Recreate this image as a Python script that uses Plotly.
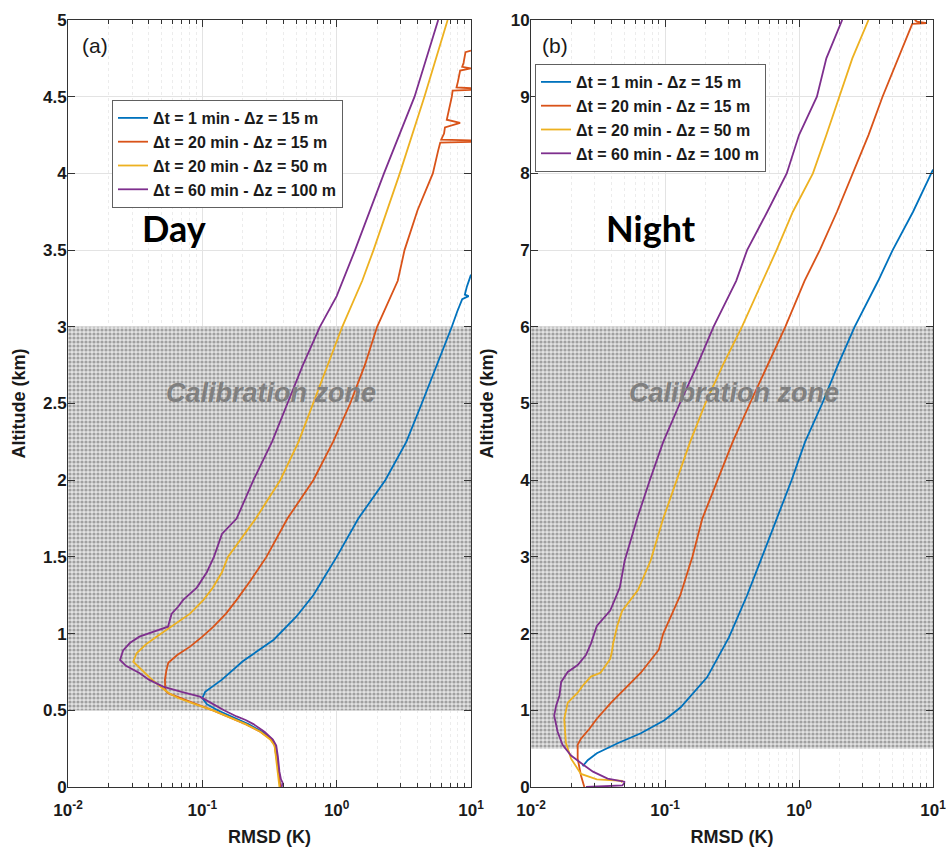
import plotly.graph_objects as go

# ---------------- data ----------------
SERIES_NAMES = ["Δt = 1 min - Δz = 15 m", "Δt = 20 min - Δz = 15 m",
                "Δt = 20 min - Δz = 50 m", "Δt = 60 min - Δz = 100 m"]
COLORS = ["#0072BD", "#D95319", "#EDB120", "#7E2F8E"]

X_RANGE = [0.01, 10]
X_TICKVALS = [0.01, 0.1, 1, 10]
X_TICKTEXT = ["10<sup>-2</sup>", "10<sup>-1</sup>", "10<sup>0</sup>", "10<sup>1</sup>"]
DAY_Y_TICKS = [0, 0.5, 1, 1.5, 2, 2.5, 3, 3.5, 4, 4.5, 5]
NIGHT_Y_TICKS = [0, 1, 2, 3, 4, 5, 6, 7, 8, 9, 10]
CAL_ZONE_DAY = [0.5, 3.0]
CAL_ZONE_NIGHT = [0.5, 6.0]

# Day panel (a)
DAY_BLUE_ALT = [0.0, 0.05, 0.1, 0.2, 0.27, 0.31, 0.36, 0.41, 0.46, 0.5, 0.54, 0.58, 0.62, 0.7, 0.82,
                0.96, 1.11, 1.25, 1.5, 1.75, 2.0, 2.25, 2.5, 2.75, 3.0, 3.1, 3.18, 3.2, 3.21, 3.26, 3.34]
DAY_BLUE_RMSD = [0.38, 0.375, 0.37, 0.36, 0.35, 0.33, 0.28, 0.22, 0.165, 0.13, 0.108, 0.1, 0.105, 0.14, 0.2,
                 0.34, 0.5, 0.67, 1.0, 1.45, 2.3, 3.3, 4.3, 5.6, 7.2, 7.9, 8.6, 9.6, 9.0, 9.3, 10.0]

DAY_RED_ALT = [0.0, 0.05, 0.1, 0.2, 0.27, 0.31, 0.36, 0.41, 0.46, 0.5, 0.54, 0.58, 0.61, 0.63, 0.7, 0.76,
               0.81, 0.86, 0.915, 0.98, 1.045, 1.13, 1.22, 1.35, 1.5, 1.75, 2.0, 2.25, 2.5, 2.75, 3.0, 3.3,
               3.5, 3.76, 4.0, 4.15, 4.2, 4.205, 4.215, 4.22, 4.26, 4.3, 4.33, 4.35, 4.42, 4.5, 4.54,
               4.545, 4.555, 4.56, 4.6, 4.67, 4.685, 4.695, 4.72, 4.79, 4.8]
DAY_RED_RMSD = [0.38, 0.375, 0.37, 0.355, 0.345, 0.325, 0.27, 0.21, 0.155, 0.12, 0.09, 0.068, 0.056, 0.053,
                0.0527, 0.054, 0.0558, 0.065, 0.081, 0.1, 0.121, 0.15, 0.18, 0.23, 0.3, 0.43, 0.67, 0.94,
                1.26, 1.62, 2.0, 2.85, 3.2, 4.0, 5.2, 5.7, 5.9, 10.0, 10.0, 6.0, 6.3, 6.4, 8.3, 6.6, 6.9,
                7.2, 7.3, 10.0, 10.0, 7.8, 8.0, 8.3, 10.0, 8.6, 8.8, 9.1, 10.0]

DAY_YEL_ALT = [0.0, 0.05, 0.1, 0.2, 0.27, 0.31, 0.36, 0.41, 0.46, 0.5, 0.54, 0.58, 0.61, 0.64, 0.71, 0.78,
               0.817, 0.872, 0.93, 0.98, 1.07, 1.13, 1.22, 1.3, 1.4, 1.5, 1.75, 2.0, 2.25, 2.5, 2.75, 3.0,
               3.3, 3.5, 4.0, 4.5, 5.0]
DAY_YEL_RMSD = [0.375, 0.37, 0.365, 0.355, 0.345, 0.32, 0.27, 0.21, 0.155, 0.12, 0.088, 0.066, 0.057, 0.051,
                0.041, 0.034, 0.0306, 0.0324, 0.038, 0.0456, 0.0643, 0.081, 0.102, 0.12, 0.14, 0.155, 0.25,
                0.38, 0.52, 0.67, 0.86, 1.1, 1.55, 1.88, 2.95, 4.5, 6.7]

DAY_PUR_ALT = [0.0, 0.03, 0.05, 0.1, 0.2, 0.27, 0.31, 0.36, 0.41, 0.437, 0.46, 0.5, 0.55, 0.589, 0.62, 0.654,
               0.7, 0.743, 0.79, 0.828, 0.89, 0.94, 0.98, 1.01, 1.045, 1.13, 1.175, 1.22, 1.3, 1.4, 1.5,
               1.65, 1.75, 2.0, 2.25, 2.5, 2.75, 3.0, 3.2, 3.5, 4.0, 4.5, 5.0]
DAY_PUR_RMSD = [0.39, 0.395, 0.385, 0.375, 0.365, 0.355, 0.335, 0.29, 0.24, 0.21, 0.18, 0.145, 0.115, 0.096,
                0.07, 0.051, 0.04, 0.034, 0.027, 0.0244, 0.0257, 0.029, 0.034, 0.043, 0.0555, 0.0591, 0.066,
                0.072, 0.091, 0.108, 0.122, 0.14, 0.18, 0.24, 0.33, 0.43, 0.56, 0.75, 1.0, 1.37, 2.25, 3.8,
                5.7]

# Night panel (b)
NIGHT_BLUE_ALT = [0.27, 0.35, 0.44, 0.57, 0.7, 0.87, 1.04, 1.19, 1.43, 1.95, 2.5, 3.0, 3.5, 4.0, 4.5, 5.0,
                  5.5, 6.0, 6.6, 7.0, 7.5, 8.0, 8.05]
NIGHT_BLUE_RMSD = [0.0243, 0.0265, 0.031, 0.0443, 0.066, 0.099, 0.131, 0.156, 0.206, 0.30, 0.41, 0.53, 0.68,
                   0.88, 1.11, 1.49, 1.95, 2.6, 3.9, 5.0, 7.1, 9.8, 10.0]

NIGHT_RED_ALT = [0.0, 0.15, 0.37, 0.55, 0.63, 0.76, 0.89, 1.1, 1.32, 1.49, 1.79, 2.0, 2.5, 3.0, 3.5, 4.0,
                 4.5, 5.0, 5.5, 6.0, 6.6, 7.0, 7.5, 8.0, 8.5, 9.0, 9.5, 9.95, 9.96, 9.98, 10.0]
NIGHT_RED_RMSD = [0.025, 0.0236, 0.0223, 0.0223, 0.0236, 0.0273, 0.031, 0.0396, 0.0527, 0.066, 0.09, 0.097,
                  0.13, 0.16, 0.19, 0.245, 0.32, 0.43, 0.58, 0.79, 1.1, 1.43, 1.92, 2.5, 3.3, 4.2, 5.5, 7.0,
                  9.0, 7.6, 7.3]

NIGHT_YEL_ALT = [0.06, 0.08, 0.1, 0.17, 0.37, 0.58, 0.89, 1.1, 1.23, 1.32, 1.44, 1.49, 1.58, 1.67, 1.75,
                 1.87, 2.1, 2.3, 2.57, 2.95, 3.5, 4.0, 4.5, 5.0, 5.5, 6.0, 6.6, 7.0, 7.5, 8.0, 8.5, 9.0,
                 9.5, 10.0]
NIGHT_YEL_RMSD = [0.047, 0.0483, 0.031, 0.0236, 0.0199, 0.0182, 0.0177, 0.0188, 0.0223, 0.0243, 0.028,
                  0.033, 0.036, 0.039, 0.040, 0.041, 0.044, 0.048, 0.063, 0.078, 0.097, 0.123, 0.154, 0.2,
                  0.27, 0.375, 0.54, 0.68, 0.9, 1.27, 1.6, 2.0, 2.5, 3.3]

NIGHT_PUR_ALT = [0.0, 0.01, 0.02, 0.05, 0.07, 0.11, 0.2, 0.28, 0.41, 0.55, 0.72, 0.93, 1.06, 1.19, 1.37,
                 1.5, 1.59, 1.72, 1.87, 2.1, 2.3, 2.6, 2.95, 3.5, 4.0, 4.5, 5.0, 5.5, 6.0, 6.6, 7.0, 7.5,
                 8.0, 8.5, 9.0, 9.5, 10.0]
NIGHT_PUR_RMSD = [0.0257, 0.035, 0.048, 0.0497, 0.0497, 0.0373, 0.029, 0.025, 0.0199, 0.0172, 0.0158,
                  0.0149, 0.0154, 0.0163, 0.0168, 0.0188, 0.0223, 0.0257, 0.028, 0.031, 0.039, 0.046, 0.05,
                  0.062, 0.077, 0.097, 0.129, 0.174, 0.23, 0.34, 0.41, 0.58, 0.81, 1.0, 1.36, 1.6, 2.1]

DAY_SERIES = [(DAY_BLUE_RMSD, DAY_BLUE_ALT), (DAY_RED_RMSD, DAY_RED_ALT),
              (DAY_YEL_RMSD, DAY_YEL_ALT), (DAY_PUR_RMSD, DAY_PUR_ALT)]
NIGHT_SERIES = [(NIGHT_BLUE_RMSD, NIGHT_BLUE_ALT), (NIGHT_RED_RMSD, NIGHT_RED_ALT),
                (NIGHT_YEL_RMSD, NIGHT_YEL_ALT), (NIGHT_PUR_RMSD, NIGHT_PUR_ALT)]

# ---------------- figure ----------------
W, H = 946, 849
FONT = "Liberation Sans, Arial, sans-serif"

fig = go.Figure()

pattern = dict(shape=".", size=4, solidity=0.5, fgcolor="#5e5e5e", bgcolor="#e2e2e2")

for xa, ya, zone in (("x", "y", CAL_ZONE_DAY), ("x2", "y2", CAL_ZONE_NIGHT)):
    fig.add_trace(go.Scatter(
        x=[X_RANGE[0], X_RANGE[1], X_RANGE[1], X_RANGE[0], X_RANGE[0]],
        y=[zone[0], zone[0], zone[1], zone[1], zone[0]],
        xaxis=xa, yaxis=ya, mode="lines", line=dict(width=0, color="rgba(0,0,0,0)"),
        fill="toself", fillcolor="rgba(0,0,0,0)", fillpattern=pattern,
        showlegend=False, hoverinfo="skip"))

for i, (xs, ys) in enumerate(DAY_SERIES):
    fig.add_trace(go.Scatter(x=xs, y=ys, mode="lines", name=SERIES_NAMES[i],
                             line=dict(color=COLORS[i], width=1.8),
                             xaxis="x", yaxis="y", legend="legend"))
for i, (xs, ys) in enumerate(NIGHT_SERIES):
    fig.add_trace(go.Scatter(x=xs, y=ys, mode="lines", name=SERIES_NAMES[i],
                             line=dict(color=COLORS[i], width=1.8),
                             xaxis="x2", yaxis="y2", legend="legend2"))

def px_x(p):
    return p / W

def px_y(p):
    return 1 - p / H

minor_x = [k * 10 ** e for e in (-2, -1, 0) for k in range(2, 10)]

tickfont = dict(family=FONT, size=17, color="#1a1a1a", weight="bold")
titlefont = dict(family=FONT, size=18, color="#1a1a1a", weight="bold")

def xaxis(domain):
    return dict(type="log", range=[-2, 1], domain=domain, tickvals=X_TICKVALS, ticktext=X_TICKTEXT,
                ticks="inside", ticklen=7, tickcolor="#333", showline=True, linecolor="#333",
                linewidth=1, mirror="allticks", showgrid=True, gridcolor="#e3e3e3", gridwidth=1,
                zeroline=False, tickfont=tickfont, automargin=False, ticklabelstandoff=8,
                ticklabeloverflow="allow",
                minor=dict(tickvals=minor_x, ticks="inside", ticklen=4, tickcolor="#333",
                           showgrid=True, gridcolor="#ececec", griddash="dot"),
                title=dict(text="RMSD (K)", font=titlefont, standoff=10))

def yaxis(domain, rng, ticks, anchor):
    return dict(range=rng, domain=domain, tickvals=ticks, ticks="inside", ticklen=7, tickcolor="#333",
                showline=True, linecolor="#333", linewidth=1, mirror="allticks", showgrid=True,
                gridcolor="#e3e3e3", zeroline=False, tickfont=tickfont, anchor=anchor,
                automargin=False, ticklabelstandoff=-3, ticklabeloverflow="allow",
                title=dict(text="Altitude (km)", font=titlefont, standoff=12))

legfont = dict(family=FONT, size=16, color="#1a1a1a", weight="bold")
ydom = [px_y(787), px_y(20)]
fig.update_layout(
    width=W, height=H, margin=dict(l=0, r=0, t=0, b=0, autoexpand=False),
    paper_bgcolor="white", plot_bgcolor="white",
    xaxis=dict(xaxis([px_x(68), px_x(471)]), anchor="y"),
    yaxis=yaxis(ydom, [0, 5], DAY_Y_TICKS, "x"),
    xaxis2=dict(xaxis([px_x(531), px_x(933)]), anchor="y2"),
    yaxis2=yaxis(ydom, [0, 10], NIGHT_Y_TICKS, "x2"),
    legend=dict(x=px_x(112), y=px_y(100), xanchor="left", yanchor="top", bgcolor="white",
                bordercolor="#606060", borderwidth=1, itemwidth=30, tracegroupgap=0, font=legfont),
    legend2=dict(x=px_x(535), y=px_y(64), xanchor="left", yanchor="top", bgcolor="white",
                 bordercolor="#606060", borderwidth=1, itemwidth=30, tracegroupgap=0, font=legfont),
    showlegend=True,
)

ann = []
ann.append(dict(text="(a)", x=px_x(80), y=px_y(45), xanchor="left", yanchor="middle",
                font=dict(family=FONT, size=21, color="#1a1a1a")))
ann.append(dict(text="(b)", x=px_x(540), y=px_y(45), xanchor="left", yanchor="middle",
                font=dict(family=FONT, size=21, color="#1a1a1a")))
ann.append(dict(text="Day", x=px_x(140), y=px_y(228), xanchor="left", yanchor="middle",
                font=dict(family="Lato, sans-serif", size=36, color="black", weight="bold")))
ann.append(dict(text="Night", x=px_x(604), y=px_y(228), xanchor="left", yanchor="middle",
                font=dict(family="Lato, sans-serif", size=36, color="black", weight="bold")))
for cx in (271, 734):
    ann.append(dict(text="<i>Calibration zone</i>", x=px_x(cx), y=px_y(393), xanchor="center",
                    yanchor="middle",
                    font=dict(family=FONT, size=27, color="#808080", weight="bold")))
for a in ann:
    a.update(xref="paper", yref="paper", showarrow=False)
fig.update_layout(annotations=ann)

fig.write_html("out.html", config={"displayModeBar": False},
               post_script="document.body.style.margin='0px';")
